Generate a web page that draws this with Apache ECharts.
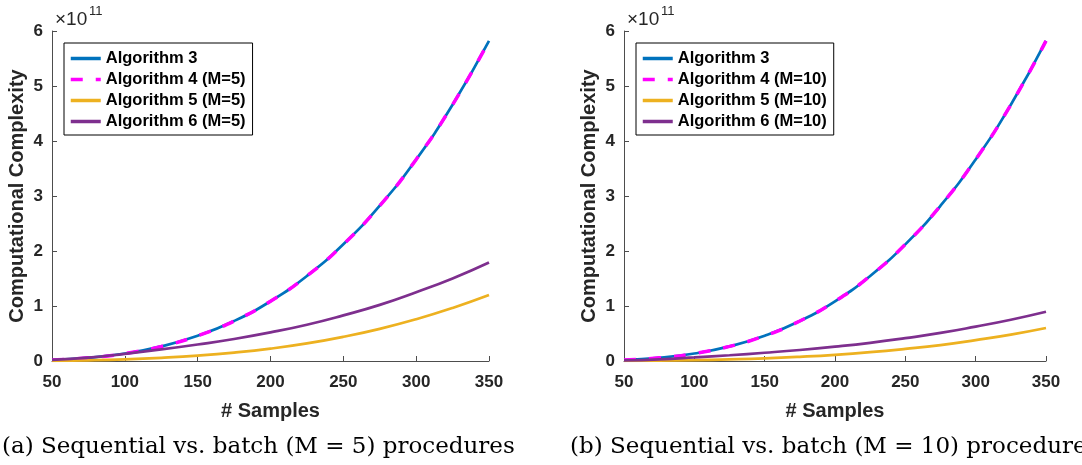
<!DOCTYPE html>
<html>
<head>
<meta charset="utf-8">
<script src="https://cdn.jsdelivr.net/npm/echarts@6/dist/echarts.min.js"></script>
<style>
  html, body { margin: 0; padding: 0; background: #fff; }
  #chart { width: 1082px; height: 465px; }
</style>
</head>
<body>
<div id="chart"></div>
<script>
// samples on the x axis
const samples = [50, 75, 100, 125, 150, 175, 200, 225, 250, 275, 300, 325, 350];

// complexity values, in units of 1e11
const alg3 = [0.017, 0.057, 0.136, 0.265, 0.458, 0.727, 1.086, 1.546, 2.121, 2.823, 3.665, 4.66, 5.82];
const alg4 = [0.017, 0.057, 0.136, 0.265, 0.458, 0.727, 1.086, 1.546, 2.121, 2.823, 3.665, 4.66, 5.82];

// (a) M = 5
const alg5_m5 = [0.004, 0.013, 0.03, 0.058, 0.097, 0.152, 0.225, 0.32, 0.44, 0.585, 0.76, 0.965, 1.2];
const alg6_m5 = [0.02, 0.06, 0.13, 0.21, 0.3, 0.4, 0.52, 0.66, 0.83, 1.02, 1.25, 1.5, 1.79];

// (b) M = 10
const alg5_m10 = [0.002, 0.007, 0.015, 0.029, 0.048, 0.076, 0.112, 0.16, 0.22, 0.29, 0.38, 0.48, 0.6];
const alg6_m10 = [0.01, 0.03, 0.065, 0.105, 0.15, 0.2, 0.26, 0.33, 0.415, 0.51, 0.625, 0.75, 0.895];

const xTicks = [50, 100, 150, 200, 250, 300, 350];
const yTicks = [0, 1, 2, 3, 4, 5, 6];

const legendA = ['Algorithm 3', 'Algorithm 4 (M=5)', 'Algorithm 5 (M=5)', 'Algorithm 6 (M=5)'];
const legendB = ['Algorithm 3 ', 'Algorithm 4 (M=10)', 'Algorithm 5 (M=10)', 'Algorithm 6 (M=10)'];

const captionA = '(a) Sequential vs. batch (M = 5) procedures';
const captionB = '(b) Sequential vs. batch (M = 10) procedures';

const colors = ['#0072BD', '#FF00FF', '#EDB120', '#7E2F8E'];
const axisColor = '#4d4d4d';
const textColor = '#262626';
const font = '"Liberation Sans", Arial, Helvetica, sans-serif';

const pairs = (ys) => samples.map((x, i) => [x, ys[i]]);

const makeX = (idx) => ({
    type: 'value',
    gridIndex: idx,
    min: xTicks[0],
    max: xTicks[xTicks.length - 1],
    interval: 50,
    name: '# Samples',
    nameLocation: 'middle',
    nameGap: 40,
    nameTextStyle: { fontFamily: font, fontWeight: 'bold', fontSize: 20, color: textColor },
    axisLine: { show: true, lineStyle: { color: axisColor, width: 1 } },
    axisTick: { show: true, inside: true, length: 5, lineStyle: { color: axisColor } },
    axisLabel: { margin: 13, fontFamily: font, fontWeight: 'bold', fontSize: 17, color: textColor },
    splitLine: { show: false }
});

const makeY = (idx) => ({
    type: 'value',
    gridIndex: idx,
    min: yTicks[0],
    max: yTicks[yTicks.length - 1],
    interval: 1,
    name: 'Computational Complexity',
    nameLocation: 'middle',
    nameGap: 25,
    nameTextStyle: { fontFamily: font, fontWeight: 'bold', fontSize: 20, color: textColor },
    axisLine: { show: true, lineStyle: { color: axisColor, width: 1 } },
    axisTick: { show: true, inside: true, length: 5, lineStyle: { color: axisColor } },
    axisLabel: { margin: 9, fontFamily: font, fontWeight: 'bold', fontSize: 17, color: textColor },
    splitLine: { show: false }
});

const makeSeries = (idx, names, a5, a6) => [
    { name: names[0], type: 'line', xAxisIndex: idx, yAxisIndex: idx, data: pairs(alg3), smooth: true,
      symbol: 'none', lineStyle: { color: colors[0], width: 2.7 }, itemStyle: { color: colors[0] } },
    { name: names[1], type: 'line', xAxisIndex: idx, yAxisIndex: idx, data: pairs(alg4), smooth: true,
      symbol: 'none', lineStyle: { color: colors[1], width: 3.5, type: [12, 13] }, itemStyle: { color: colors[1] } },
    { name: names[2], type: 'line', xAxisIndex: idx, yAxisIndex: idx, data: pairs(a5), smooth: true,
      symbol: 'none', lineStyle: { color: colors[2], width: 2.7 }, itemStyle: { color: colors[2] } },
    { name: names[3], type: 'line', xAxisIndex: idx, yAxisIndex: idx, data: pairs(a6), smooth: true,
      symbol: 'none', lineStyle: { color: colors[3], width: 2.7 }, itemStyle: { color: colors[3] } }
];

const makeLegend = (left, names) => ({
    data: names,
    left: left,
    top: 43,
    orient: 'vertical',
    itemWidth: 30,
    itemHeight: 14,
    itemGap: 4,
    padding: [7, 7, 5, 5],
    borderColor: '#000',
    borderWidth: 1,
    backgroundColor: '#fff',
    selectedMode: false,
    itemStyle: { color: 'transparent', borderWidth: 0, opacity: 0 },
    lineStyle: { width: 3.5 },
    textStyle: { fontFamily: font, fontWeight: 'bold', fontSize: 16.5, color: '#000' }
});

const exponent = (left) => ({
    type: 'group',
    left: left,
    top: 5,
    children: [
        { type: 'text', x: 0, y: 5, style: { text: '×10', font: '19px ' + font, fill: textColor } },
        { type: 'text', x: 34, y: 0, style: { text: '11', font: '13px ' + font, fill: textColor } }
    ]
});

const caption = (left, text) => ({
    type: 'text',
    left: left,
    top: 436,
    style: { text: text, font: '23px "DejaVu Serif", "Liberation Serif", serif', fill: '#000' }
});

let chart = echarts.init(document.getElementById('chart'), null, { renderer: 'canvas' });

chart.setOption({
    animation: false,
    backgroundColor: '#fff',
    grid: [
        { left: 52, top: 31, width: 437, height: 330 },
        { left: 624, top: 31, width: 422, height: 330 }
    ],
    xAxis: [makeX(0), makeX(1)],
    yAxis: [makeY(0), makeY(1)],
    legend: [makeLegend(64, legendA), makeLegend(636, legendB)],
    series: [].concat(
        makeSeries(0, legendA, alg5_m5, alg6_m5),
        makeSeries(1, legendB, alg5_m10, alg6_m10)
    ),
    graphic: [
        exponent(55),
        exponent(627),
        caption(2, captionA),
        caption(570, captionB)
    ]
});
</script>
</body>
</html>
